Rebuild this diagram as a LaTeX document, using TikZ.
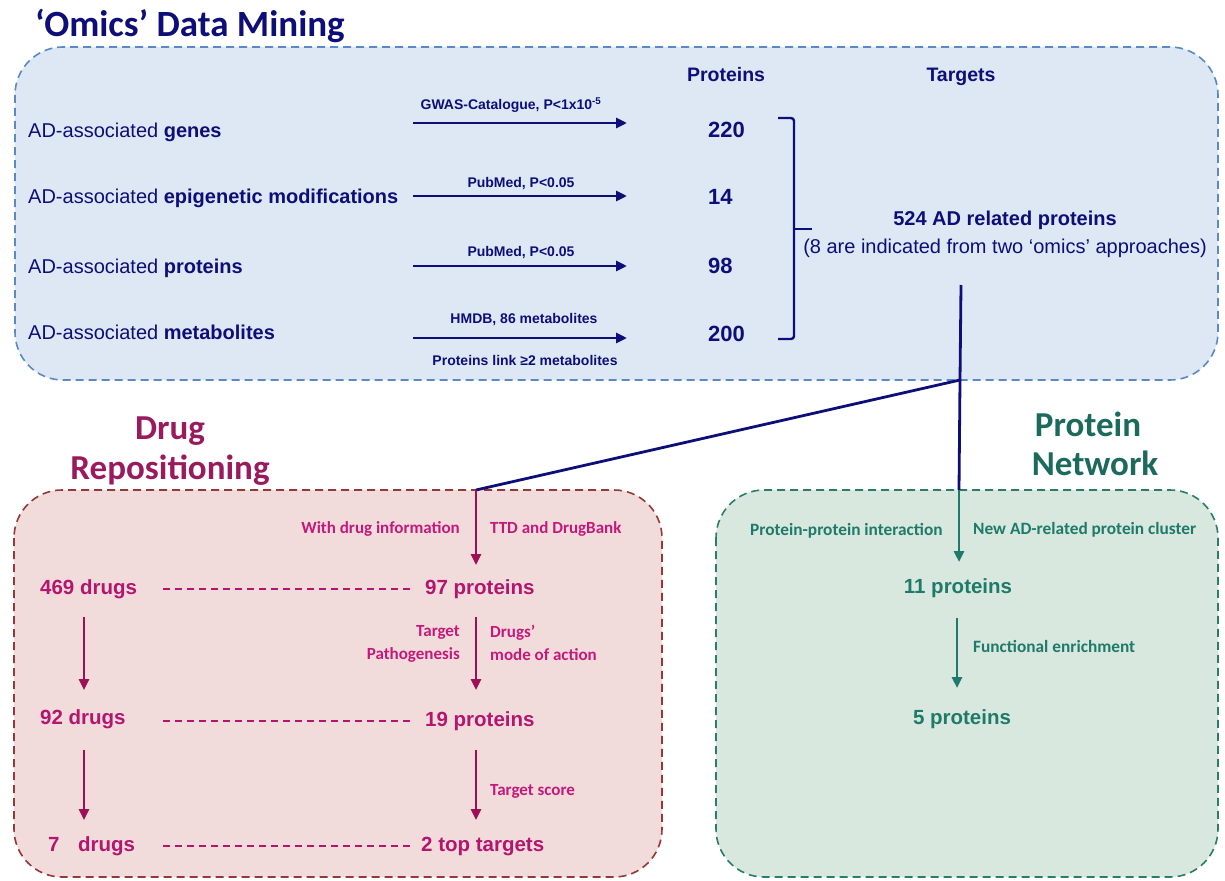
\documentclass[tikz,border=0pt]{standalone}
\usepackage{fontspec}
\setmainfont{Liberation Sans}
\newfontfamily\calibfont{Carlito}
\usetikzlibrary{arrows.meta}
\definecolor{navy}{HTML}{0E0E78}
\definecolor{topfill}{HTML}{DEE8F4}
\definecolor{topdash}{HTML}{5A8AC6}
\definecolor{drugfill}{HTML}{F2DCDB}
\definecolor{drugdash}{HTML}{953838}
\definecolor{drugtitle}{HTML}{9A1A5E}
\definecolor{druglab}{HTML}{C4197C}
\definecolor{drugnum}{HTML}{B3156F}
\definecolor{drugarr}{HTML}{9C1057}
\definecolor{protfill}{HTML}{D9E8DF}
\definecolor{protdash}{HTML}{2C7C6A}
\definecolor{protcol}{HTML}{1E7A6A}
\definecolor{prottitle}{HTML}{1B6A5C}
\tikzset{
  panel/.style={line width=1.6pt, dash pattern=on 8pt off 5pt, rounded corners=48pt},
  ttl/.style={inner sep=0, anchor=base, font=\calibfont\bfseries\fontsize{35}{38}\selectfont},
  rowtxt/.style={inner sep=0, anchor=base west, text=navy, font=\fontsize{20}{22}\selectfont},
  num/.style={inner sep=0, anchor=base west, text=navy, font=\bfseries\fontsize{22}{24}\selectfont},
  hdr/.style={inner sep=0, anchor=base, text=navy, font=\bfseries\fontsize{19.5}{22}\selectfont},
  small/.style={inner sep=0, anchor=base, text=navy, font=\bfseries\fontsize{14}{16}\selectfont},
  tip/.style={-{Triangle[length=11pt,width=10pt]}},
  navyarrow/.style={navy, line width=2.8pt, tip},
  navyline/.style={navy, line width=2.8pt},
  druglabel/.style={inner sep=0, text=druglab, font=\calibfont\bfseries\fontsize{17}{23}\selectfont},
  drugnumber/.style={inner sep=0, anchor=base west, text=drugnum, font=\bfseries\fontsize{20.5}{24}\selectfont},
  drugarrow/.style={drugarr, line width=2.6pt, tip},
  drugdashed/.style={drugnum, line width=1.3pt, dash pattern=on 7pt off 5pt},
  protlabel/.style={inner sep=0, text=protcol, font=\calibfont\bfseries\fontsize{17.3}{23}\selectfont},
  protnumber/.style={inner sep=0, anchor=base, text=protcol, font=\bfseries\fontsize{20.5}{24}\selectfont},
  protarrow/.style={protcol, line width=2.8pt, tip},
}
\begin{document}
\begin{tikzpicture}[x=1pt,y=-1pt]
\useasboundingbox (0,0) rectangle (1225,880);
% panels
\draw[panel, draw=topdash, fill=topfill] (15,47) rectangle (1218,380);
\draw[panel, draw=drugdash, fill=drugfill] (14,490) rectangle (662,877);
\draw[panel, draw=protdash, fill=protfill] (716,490) rectangle (1218,877);

% titles
\node[ttl, text=navy, anchor=base west, font=\calibfont\bfseries\fontsize{37}{40}\selectfont] (t1) at (35,37) {‘Omics’ Data Mining};
\node[ttl, text=drugtitle] (t2a) at (170,439) {Drug};
\node[ttl, text=drugtitle] (t2b) at (170,479) {Repositioning};
\node[ttl, text=prottitle] (t3a) at (1088,436) {Protein};
\node[ttl, text=prottitle] (t3b) at (1095,475) {Network};

% headers
\node[hdr] (hprot) at (726,82) {Proteins};
\node[hdr] (htarg) at (961,82) {Targets};

% rows
\node[rowtxt] (r1) at (28,137) {AD-associated \textbf{genes}};
\node[rowtxt] (r2) at (28,203) {AD-associated \textbf{epigenetic modifications}};
\node[rowtxt] (r3) at (28,273) {AD-associated \textbf{proteins}};
\node[rowtxt] (r4) at (28,339) {AD-associated \textbf{metabolites}};

\node[num] (n1) at (708,138) {220};
\node[num] (n2) at (708,204) {14};
\node[num] (n3) at (708,273) {98};
\node[num] (n4) at (708,341) {200};

\foreach \i/\y in {1/123,2/196,3/266,4/338}{
  \coordinate (a\i s) at (413,\y);
  \coordinate (a\i e) at (627,\y);
  \draw[navyarrow] (a\i s) -- (a\i e);
}
\node[small] (l1) at (511,110) {GWAS-Catalogue, P<1x10\textsuperscript{-5}};
\node[small] (l2) at (521,187) {PubMed, P<0.05};
\node[small] (l3) at (521,256) {PubMed, P<0.05};
\node[small] (l4) at (524,323) {HMDB, 86 metabolites};
\node[small] (l5) at (525,365) {Proteins link ≥2 metabolites};

% bracket
\draw[navy, line width=2.4pt, rounded corners=3pt] (778,118) -- (794,118) -- (794,339) -- (778,339);
\draw[navy, line width=2.4pt] (794,229) -- (812,229);

\node[inner sep=0, anchor=base, text=navy, font=\bfseries\fontsize{20}{24}\selectfont] (tgt1) at (1005,225) {524 AD related proteins};
\node[inner sep=0, anchor=base, text=navy, font=\fontsize{20}{24}\selectfont] (tgt2) at (1005,253) {(8 are indicated from two ‘omics’ approaches)};

% connectors
\coordinate (c0) at (961,285);
\coordinate (cj) at (960,380);
\coordinate (cd) at (476,490);
\coordinate (cp) at (959,490);
\draw[navyline] (c0) -- (cj) -- (cd);
\draw[navyline] (cj) -- (cp);

% drug panel
\node[drugnumber] (d1) at (40,594) {469 drugs};
\node[drugnumber] (d2) at (40,724) {92 drugs};
\node[drugnumber] (d3) at (48,851) {7\hspace{0.9em}drugs};
\node[drugnumber] (p1) at (425,594) {97 proteins};
\node[drugnumber] (p2) at (425,726) {19 proteins};
\node[drugnumber] (p3) at (421,851) {2 top targets};

\draw[drugarrow] (cd) -- (476,565);
\node[druglabel, anchor=base east] (dl1) at (460,533) {With drug information};
\node[druglabel, anchor=base west] (dl2) at (490,533) {TTD and DrugBank};

\coordinate (la1) at (84,617); \coordinate (la2) at (84,690);
\coordinate (lb1) at (84,750); \coordinate (lb2) at (84,820);
\coordinate (ra1) at (476,617); \coordinate (ra2) at (476,690);
\coordinate (rb1) at (476,750); \coordinate (rb2) at (476,820);
\draw[drugarrow] (la1) -- (la2);
\draw[drugarrow] (lb1) -- (lb2);
\draw[drugarrow] (ra1) -- (ra2);
\draw[drugarrow] (rb1) -- (rb2);

\node[druglabel, anchor=north east, align=right] (dl3) at (460,625) {Target\\Pathogenesis};
\node[druglabel, anchor=north west, align=left] (dl4) at (490,625) {Drugs’\\mode of action};
\node[druglabel, anchor=base west] (dl5) at (490,795) {Target score};

\coordinate (h1s) at (163,589); \coordinate (h1e) at (410,589);
\coordinate (h2s) at (163,721); \coordinate (h2e) at (410,721);
\coordinate (h3s) at (163,846); \coordinate (h3e) at (410,846);
\draw[drugdashed] (h1s) -- (h1e);
\draw[drugdashed] (h2s) -- (h2e);
\draw[drugdashed] (h3s) -- (h3e);

% protein panel
\draw[protarrow] (cp) -- (959,562);
\node[protlabel, anchor=base west] (pl1) at (750,535) {Protein-protein interaction};
\node[protlabel, anchor=base west] (pl2) at (973,534) {New AD-related protein cluster};
\node[protnumber] (q1) at (958,593) {11 proteins};
\coordinate (pa1) at (957,618); \coordinate (pa2) at (957,688);
\draw[protarrow] (pa1) -- (pa2);
\node[protlabel, anchor=base west] (pl3) at (973,652) {Functional enrichment};
\node[protnumber] (q2) at (962,724) {5 proteins};
\end{tikzpicture}
\end{document}
